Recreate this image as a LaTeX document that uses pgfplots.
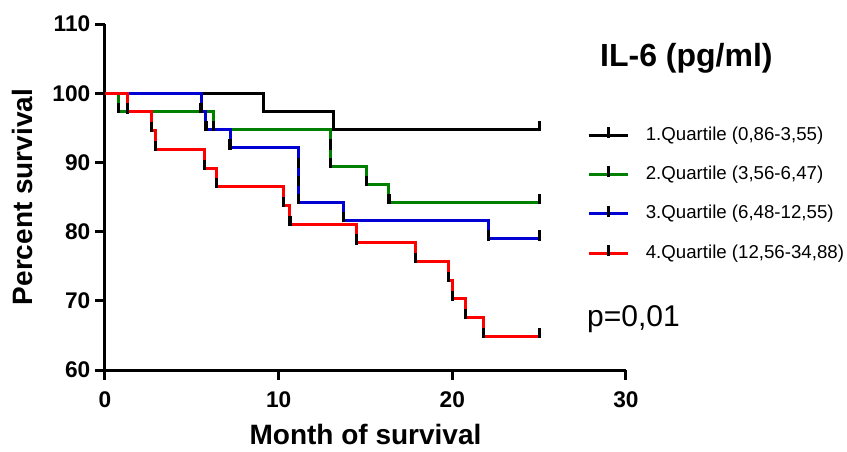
\documentclass[border=0pt]{standalone}
\usepackage{fontspec}
\setmainfont{Liberation Sans}
\usepackage{pgfplots}
\pgfplotsset{compat=1.18}
\definecolor{kmgreen}{RGB}{0,128,0}
\definecolor{kmblue}{RGB}{0,0,210}
\definecolor{kmred}{RGB}{255,0,0}
% short upward tick used for the event/censor marks
\pgfdeclareplotmark{cens}{%
  \pgfpathmoveto{\pgfqpoint{0pt}{-1.3pt}}%
  \pgfpathlineto{\pgfqpoint{0pt}{6.3pt}}%
  \pgfusepathqstroke}

\begin{document}
\begin{tikzpicture}
\path[use as bounding box] (0,0) rectangle (635.25pt,338.25pt);
\begin{axis}[
  at={(78.75pt,60.75pt)}, anchor=south west,
  scale only axis, width=390.75pt, height=259.5pt,
  xmin=0, xmax=30, ymin=60, ymax=110,
  xtick={0,10,20,30}, ytick={60,70,...,110},
  axis x line=bottom, axis y line=left,
  axis line style={-, line width=2.25pt, black},
  x axis line style={-}, y axis line style={-},
  tick align=outside, major tick length=7.5pt,
  tick style={line width=2.25pt, black},
  clip=false,
  /pgf/number format/assume math mode=true,
  ticklabel style={font=\fontsize{17}{20}\selectfont\bfseries},
  xticklabel style={yshift=-5pt},
  every axis x label/.style={at={(axis description cs:0.5,-0.2139)}, anchor=base},
  every axis y label/.style={at={(axis description cs:-0.1382,0.5)}, rotate=90, anchor=base},
  label style={font=\fontsize{21}{25}\selectfont\bfseries},
  xlabel={Month of survival}, ylabel={Percent survival},
  every axis plot/.append style={const plot, line width=2.25pt,
    mark=cens, mark repeat=1, mark phase=2,
    mark options={black, line width=2.4pt, solid}},
  legend cell align=left,
  legend image code/.code={%
    \draw[#1, mark=none, line width=2.25pt] (0pt,0pt) -- (29.25pt,0pt);
    \draw[black, line width=2.25pt] (14.6pt,-2pt) -- (14.6pt,6.2pt);},
  legend style={at={(axis cs:27.75,95.4)}, anchor=north west, draw=none, fill=none,
    font=\fontsize{14}{17}\selectfont, inner sep=0pt,
    nodes={inner sep=0pt, text height=10.5pt, text depth=3pt},
    row sep=15.5pt,
    /tikz/every odd column/.append style={column sep=12.5pt}},
]
\addplot[black] coordinates {(0,100) (9.11,97.37) (13.18,94.74) (25,94.74)};
\addlegendentry{1.Quartile (0,86-3,55)}
\addplot[kmgreen] coordinates {(0,100) (0.77,97.37) (6.24,94.74) (13.0,92.11) (13.0,89.47)
  (15.06,86.84) (16.35,84.21) (25,84.21)};
\addlegendentry{2.Quartile (3,56-6,47)}
\addplot[kmblue] coordinates {(0,100) (5.53,97.37) (5.81,94.74) (7.2,92.11) (11.13,89.47)
  (11.13,86.84) (11.13,84.21) (13.72,81.58) (22.07,78.95) (25,78.95)};
\addlegendentry{3.Quartile (6,48-12,55)}
\addplot[kmred] coordinates {(0,100) (1.28,97.30) (2.69,94.59) (2.93,91.89) (5.71,89.19)
  (6.43,86.49) (10.27,83.78) (10.65,81.08) (14.49,78.38) (17.9,75.68) (19.8,72.97)
  (19.99,70.27) (20.76,67.57) (21.78,64.86) (25,64.86)};
\addlegendentry{4.Quartile (12,56-34,88)}
\node[anchor=base west, font=\fontsize{24}{28}\selectfont\bfseries, inner sep=0pt]
  at (axis cs:28.5,103.8) {IL-6 (pg/ml)};
\node[anchor=base west, font=\fontsize{22.5}{27}\selectfont, inner sep=0pt]
  at (axis cs:27.75,66.26) {p=0,01};
\end{axis}
\end{tikzpicture}
\end{document}
